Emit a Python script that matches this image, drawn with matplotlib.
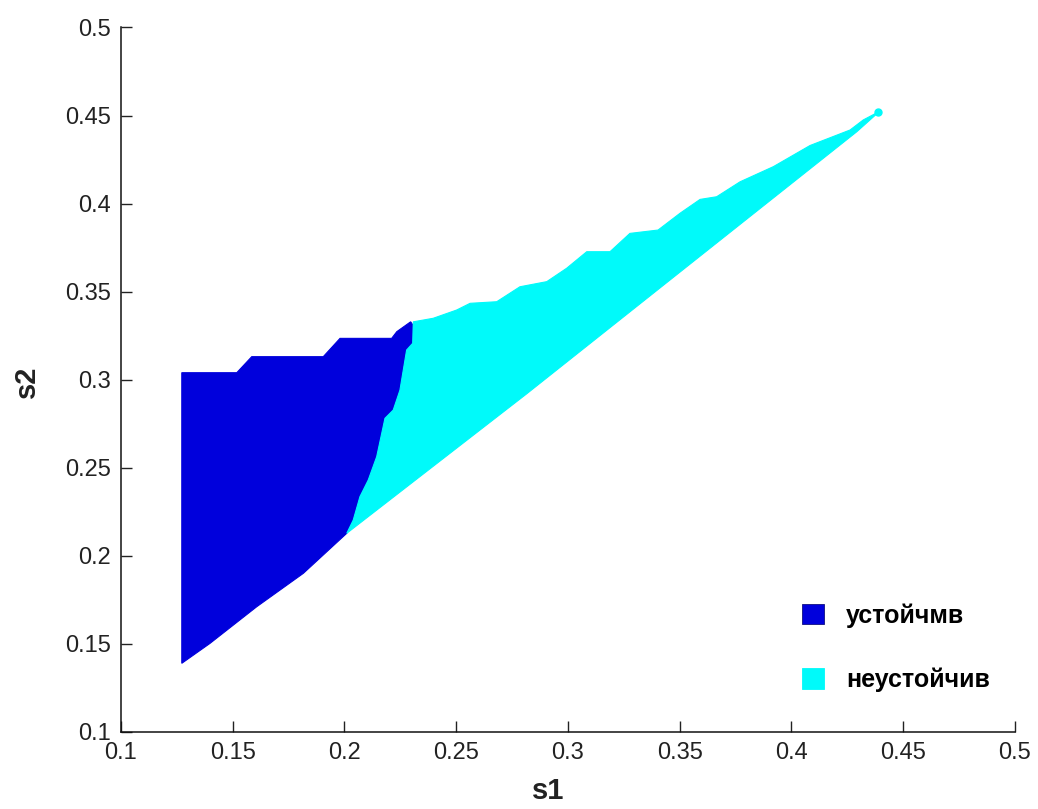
import matplotlib
matplotlib.use("Agg")
import matplotlib.pyplot as plt
from matplotlib.patches import Patch

plt.rcParams["font.family"] = ["Liberation Sans", "DejaVu Sans"]

# Lower edge of the explored region (shared by both zones)
lower_s1 = [0.1272, 0.1398, 0.1607, 0.1816, 0.2010, 0.2815, 0.3456, 0.4292, 0.4388]
lower_s2 = [0.1390, 0.1503, 0.1711, 0.1901, 0.2128, 0.2920, 0.3566, 0.4408, 0.4517]

# Upper edge of the stable zone (left to right)
stable_top_s1 = [0.1272, 0.1518, 0.1585, 0.1905, 0.1980, 0.2211, 0.2234, 0.2296, 0.2306]
stable_top_s2 = [0.3040, 0.3040, 0.3131, 0.3131, 0.3235, 0.3235, 0.3273, 0.3329, 0.3311]

# Border between the stable and unstable zones (top to bottom)
border_s1 = [0.2305, 0.2278, 0.2248, 0.2218, 0.2181, 0.2144, 0.2106, 0.2069, 0.2039, 0.2010]
border_s2 = [0.3207, 0.3169, 0.2941, 0.2828, 0.2781, 0.2563, 0.2430, 0.2336, 0.2203, 0.2128]

# Upper edge of the unstable zone (left to right)
unstable_top_s1 = [0.2308, 0.2397, 0.2502, 0.2562, 0.2681, 0.2785, 0.2905, 0.2994, 0.3084,
                   0.3188, 0.3277, 0.3403, 0.3501, 0.3591, 0.3665, 0.3770, 0.3919, 0.4083,
                   0.4262, 0.4321, 0.4388]
unstable_top_s2 = [0.3329, 0.3349, 0.3396, 0.3434, 0.3443, 0.3528, 0.3557, 0.3633, 0.3727,
                   0.3727, 0.3831, 0.3850, 0.3945, 0.4024, 0.4039, 0.4124, 0.4210, 0.4330,
                   0.4418, 0.4475, 0.4520]

ticks = [0.1, 0.15, 0.2, 0.25, 0.3, 0.35, 0.4, 0.45, 0.5]
tick_labels = ["0.1", "0.15", "0.2", "0.25", "0.3", "0.35", "0.4", "0.45", "0.5"]
legend_labels = ["устойчмв", "неустойчив"]

c_stable = "#0000dc"
c_unstable = "#00fafa"

fig = plt.figure(figsize=(10.38, 8.09), dpi=100)
ax = fig.add_axes([0.11657, 0.09518, 0.86127, 0.87083])

# stable zone: top edge, then border down, then lower edge back to the start
i_border = lower_s1.index(border_s1[-1])
st_x = stable_top_s1 + border_s1 + lower_s1[:i_border + 1][::-1]
st_y = stable_top_s2 + border_s2 + lower_s2[:i_border + 1][::-1]
ax.fill(st_x, st_y, color=c_stable, lw=0.8, ec=c_stable)

# unstable zone: border down, lower edge to the tip, top edge back
un_x = border_s1 + lower_s1[i_border + 1:] + unstable_top_s1[::-1]
un_y = border_s2 + lower_s2[i_border + 1:] + unstable_top_s2[::-1]
ax.fill(un_x, un_y, color=c_unstable, lw=0.8, ec=c_unstable)
ax.plot([unstable_top_s1[-1]], [unstable_top_s2[-1]], "o", color=c_unstable, ms=5)

ax.set_xlim(0.1, 0.5)
ax.set_ylim(0.1, 0.5)
ax.set_xticks(ticks)
ax.set_xticklabels(tick_labels)
ax.set_yticks(ticks)
ax.set_yticklabels(tick_labels)
ax.tick_params(direction="in", length=8, width=1, labelsize=17, pad=7, colors="#222222")
for side in ("top", "right"):
    ax.spines[side].set_visible(False)
for side in ("left", "bottom"):
    ax.spines[side].set_linewidth(1.1)
    ax.spines[side].set_color("#111111")

ax.set_xlabel("s1", fontsize=21, fontweight="bold", color="#222222")
ax.set_ylabel("s2", fontsize=21, fontweight="bold", color="#222222")
ax.xaxis.set_label_coords(0.4776, -0.064)
ax.yaxis.set_label_coords(-0.09, 0.497)

handles = [Patch(facecolor=c_stable, edgecolor="#101080", lw=0.6),
           Patch(facecolor=c_unstable, edgecolor=c_unstable, lw=0.6)]
leg = ax.legend(handles, legend_labels, loc="upper left", bbox_to_anchor=(0.7617, 0.183),
                frameon=False, handlelength=0.88, handleheight=0.88, handletextpad=0.88,
                labelspacing=1.6, prop={"size": 18, "weight": "bold"},
                borderpad=0, borderaxespad=0)

fig.savefig("out.png", dpi=100)
